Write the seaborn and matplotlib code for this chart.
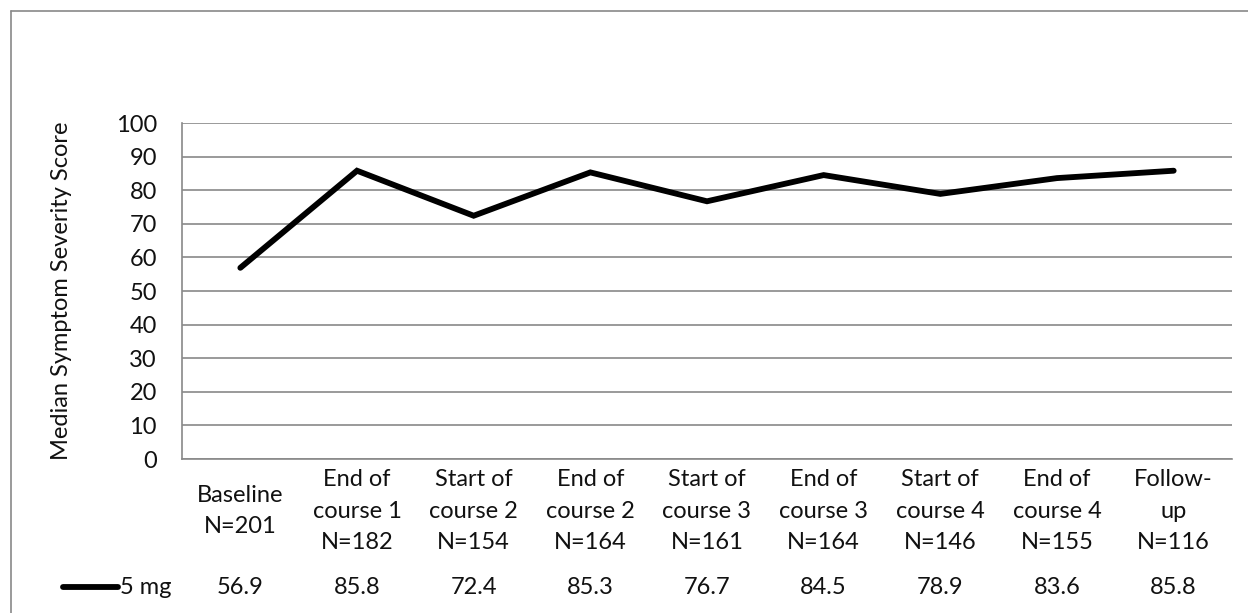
import numpy as np
import matplotlib.pyplot as plt
import seaborn as sns
import pandas as pd
from matplotlib.lines import Line2D

# chart data
categories = ["Baseline\nN=201", "End of\ncourse 1\nN=182", "Start of\ncourse 2\nN=154",
              "End of\ncourse 2\nN=164", "Start of\ncourse 3\nN=161", "End of\ncourse 3\nN=164",
              "Start of\ncourse 4\nN=146", "End of\ncourse 4\nN=155", "Follow-\nup\nN=116"]
values = [56.9, 85.8, 72.4, 85.3, 76.7, 84.5, 78.9, 83.6, 85.8]
series_name = "5 mg"
y_label = "Median Symptom Severity Score"
y_ticks = list(range(0, 101, 10))

W, H = 1248, 613
grid_col = "#898989"
text_col = "#111111"
fs = 17

sns.set_theme(style="white")
plt.rcParams['font.family'] = ['Lato', 'DejaVu Sans']

fig = plt.figure(figsize=(W / 100, H / 100), dpi=100)
ax = fig.add_axes([182 / W, 1 - 459 / H, (1232 - 182) / W, (459 - 123) / H])

df = pd.DataFrame({"pos": np.arange(len(values)), "value": values})
sns.lineplot(data=df, x="pos", y="value", color="black", linewidth=4.2,
             solid_capstyle="round", solid_joinstyle="miter", ax=ax)

ax.set_xlim(-0.5, len(values) - 0.5)
ax.set_ylim(0, 100)
ax.set_yticks(y_ticks)
ax.set_xticks([])
ax.set_xlabel("")
ax.set_ylabel("")
ax.yaxis.grid(True, color=grid_col, linewidth=1.2)
ax.set_axisbelow(True)
ax.tick_params(axis="y", length=0, pad=18, labelsize=fs, labelcolor=text_col)
for side in ["top", "right"]:
    ax.spines[side].set_visible(False)
for side in ["left", "bottom"]:
    ax.spines[side].set_color(grid_col)
    ax.spines[side].set_linewidth(1.2)

fig.text(62 / W, 1 - 291 / H, y_label, rotation=90, ha="center", va="center",
         fontsize=fs, color=text_col)

# category labels and data table row
xt = ax.get_xaxis_transform()
for i, lab in enumerate(categories):
    ax.text(i, -0.155, lab, transform=xt, ha="center", va="center",
            fontsize=fs, color=text_col, linespacing=1.6)
    ax.text(i, -0.381, f"{values[i]:.1f}", transform=xt, ha="center", va="center",
            fontsize=fs, color=text_col)

row_y = 1 - 587 / H
fig.add_artist(Line2D([63 / W, 118 / W], [row_y, row_y], color="black",
                      linewidth=4.2, solid_capstyle="round"))
fig.text(120 / W, row_y, series_name, ha="left", va="center", fontsize=fs, color=text_col)

# chart area frame (top and left edges visible)
top = 1 - 11 / H
fig.add_artist(Line2D([11 / W, 1.0], [top, top], color=grid_col, linewidth=1.2))
fig.add_artist(Line2D([11 / W, 11 / W], [0.0, top], color=grid_col, linewidth=1.2))

fig.savefig("out.png", dpi=100)
